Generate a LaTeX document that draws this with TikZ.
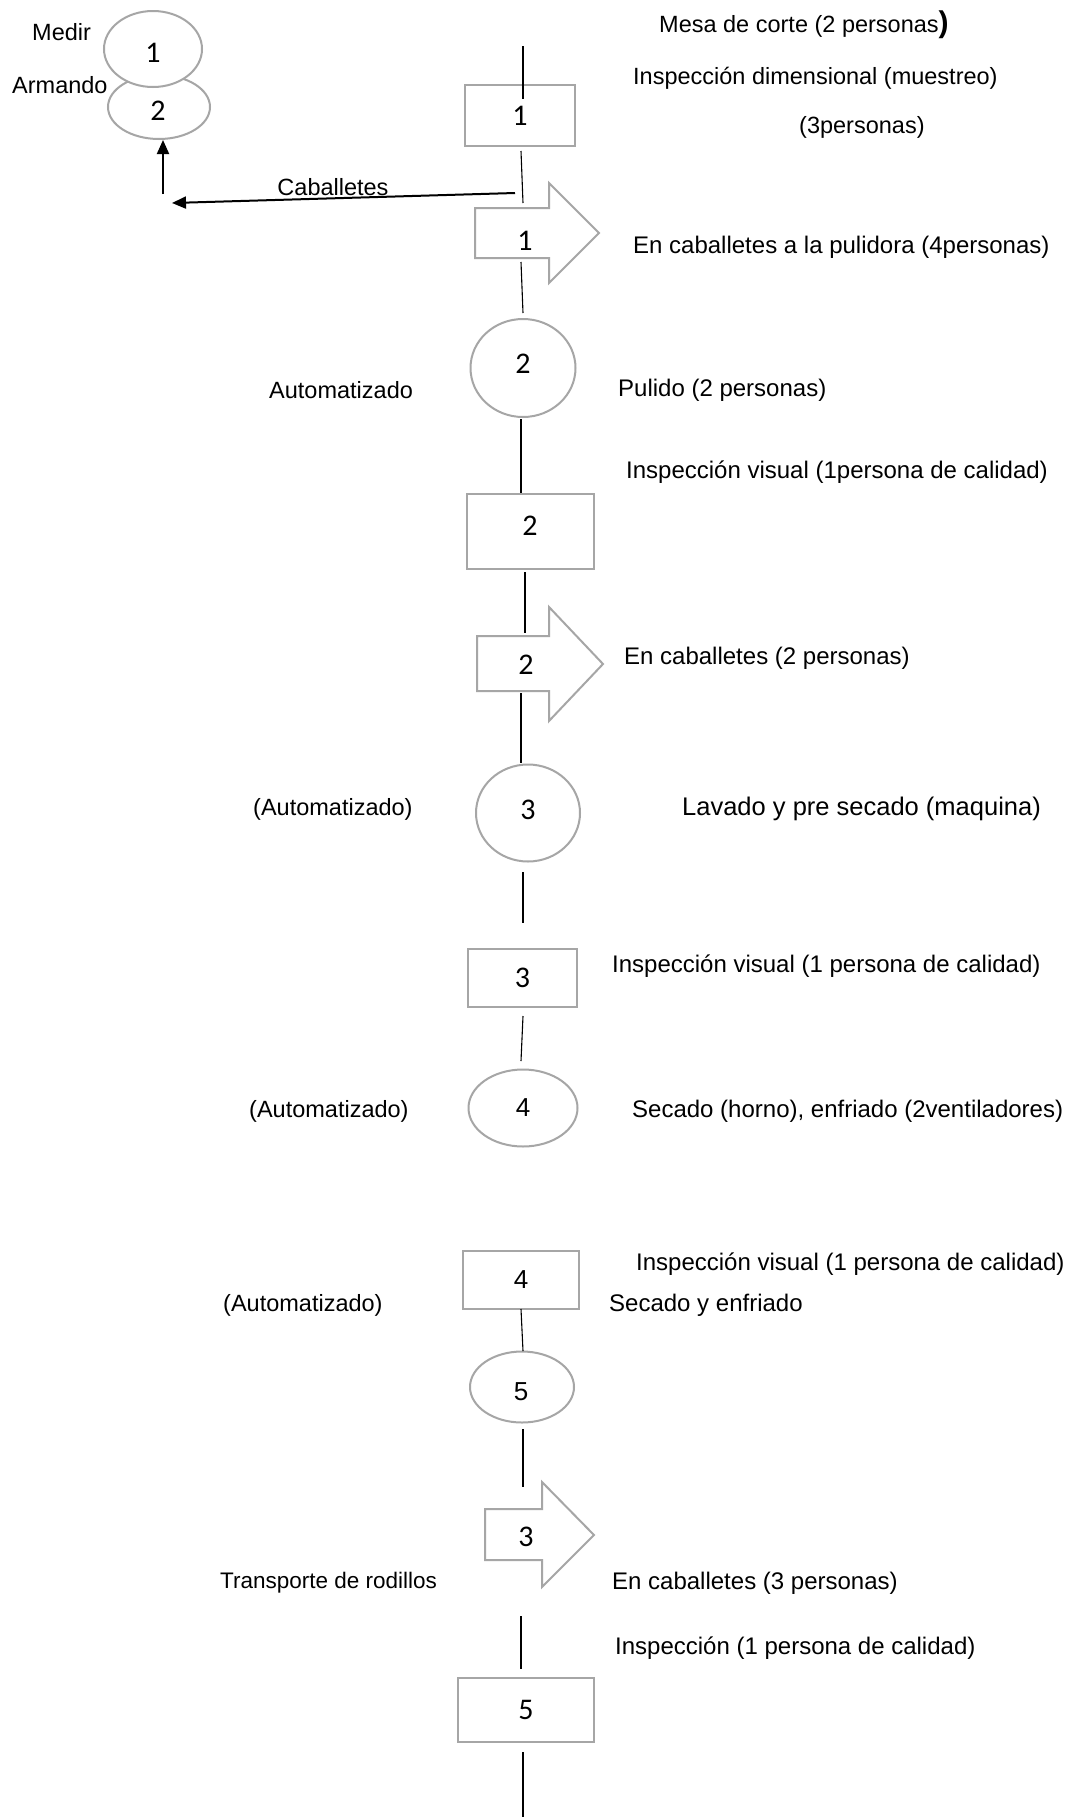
\documentclass[tikz,border=0pt]{standalone}
\usepackage{fontspec}
\setmainfont{Liberation Sans}
\newfontfamily\numfont{Carlito}
\usetikzlibrary{shapes.geometric,arrows.meta,calc}
\definecolor{shapegray}{RGB}{166,166,166}
\tikzset{
  shapeline/.style={draw=shapegray, line width=2pt},
  numtext/.style={font=\numfont\fontsize{30}{34}\selectfont},
  sanstext/.style={font=\fontsize{26}{30}\selectfont},
  boxnode/.style={shapeline, rectangle, inner sep=0pt, outer sep=0pt, numtext},
  ovalnode/.style={shapeline, ellipse, inner sep=0pt, outer sep=0pt, numtext},
  bodynode/.style={rectangle, inner sep=0pt, outer sep=0pt},
  numlabel/.style={numtext, inner sep=0pt},
  conn/.style={draw=black, line width=1.1pt},
  bigarrow/.style={draw=black, line width=2pt, -{Triangle[length=14pt,width=12pt]}},
  lbl/.style={font=\fontsize{23.5}{28}\selectfont, inner sep=0pt, anchor=west},
  rlbl/.style={font=\fontsize{24}{28}\selectfont, inner sep=0pt, anchor=west},
}
\begin{document}
\begin{tikzpicture}[x=1pt,y=-1pt]
\useasboundingbox (0,0) rectangle (1067,1818);
\fill[white] (0,0) rectangle (1067,1818);

% ---- side sub-process: measure and assemble ----
\node[ovalnode, minimum width=102pt, minimum height=64pt] (m2) at (159,107) {};
\node[numlabel] (m2n) at (158,111) {2};
\node[ovalnode, fill=white, minimum width=98pt, minimum height=76pt] (m1) at (153,49) {};
\node[numlabel] (m1n) at (153,53) {1};
\node[lbl] (medir) at (32,32) {Medir};
\node[lbl] (armando) at (12,85) {Armando};
\coordinate (upfoot) at (163,194);
\draw[bigarrow] (upfoot) -- ($(m2.south)+(4,1)$);
\coordinate (cabstart) at (515,193);
\coordinate (cabend) at (172,203);
\draw[bigarrow] (cabstart) -- (cabend);
\node[lbl, anchor=center] (cab) at (333,187) {Caballetes};

% ---- main process column ----
\coordinate (t0) at (523,46);
\coordinate (t1) at (523,99);
\node[boxnode, minimum width=110pt, minimum height=61pt] (b1) at (520,115.5) {1};
\draw[conn] (t0) -- (t1);

% transport 1
\node[bodynode, minimum width=74pt, minimum height=50pt] (a1) at (512,233) {};
\draw[shapeline, line join=miter] (a1.south west) -- (a1.north west) -- (a1.north east)
  -- ++(0,-25) -- ++(50,50) -- ++(-50,50) -- (a1.south east) -- cycle;
\node[numlabel] (a1n) at (525,241) {1};

\node[ovalnode, minimum width=105pt, minimum height=98pt] (c2) at (523,368) {};
\node[numlabel] (c2n) at (523,364) {2};
\node[boxnode, minimum width=127pt, minimum height=75pt] (b2) at (530.5,531.5) {};
\node[numlabel] (b2n) at (530,526) {2};

% transport 2
\node[bodynode, minimum width=72pt, minimum height=55pt] (a2) at (513,663.5) {};
\draw[shapeline, line join=miter] (a2.south west) -- (a2.north west) -- (a2.north east)
  -- ++(0,-29) -- ++(54,57) -- ++(-54,57) -- (a2.south east) -- cycle;
\node[numlabel] (a2n) at (526,665) {2};

\node[ovalnode, minimum width=104pt, minimum height=97pt] (c3) at (528,813) {};
\node[numlabel] (c3n) at (528,810) {3};
\node[boxnode, minimum width=109pt, minimum height=58pt] (b3) at (522.5,978) {3};
\node[ovalnode, minimum width=109pt, minimum height=77pt, sanstext] (e4) at (523,1108) {4};
\node[boxnode, minimum width=116pt, minimum height=58pt, sanstext] (b4) at (521,1280) {4};
\node[ovalnode, minimum width=104pt, minimum height=71pt] (e5) at (522,1387) {};
\node[inner sep=0pt, sanstext] (e5n) at (521,1392) {5};

% transport 3
\node[bodynode, minimum width=57pt, minimum height=51pt] (a3) at (513.5,1534.5) {};
\draw[shapeline, line join=miter] (a3.south west) -- (a3.north west) -- (a3.north east)
  -- ++(0,-27) -- ++(52,53) -- ++(-52,52) -- (a3.south east) -- cycle;
\node[numlabel] (a3n) at (526,1537) {3};

\node[boxnode, minimum width=136pt, minimum height=64pt] (b5) at (526,1710) {5};
\coordinate (tend) at (523,1817);

% connectors
\draw[conn] ($(b1.south)+(1,5)$) -- ($(a1.north)+(11,-5)$);
\draw[conn] ($(a1.south)+(9,4)$) -- ($(c2.north)+(0,-6)$);
\draw[conn] ($(c2.south)+(-2,2)$) -- ($(b2.north)+(-9.5,-1)$);
\draw[conn] ($(b2.south)+(-5.5,3)$) -- ($(a2.north)+(12,-3)$);
\draw[conn] ($(a2.south)+(8,2)$) -- ($(c3.north)+(-7,-1.5)$);
\draw[conn] ($(c3.south)+(-5,10.5)$) -- ($(b3.north)+(0.5,-26)$);
\draw[conn] ($(b3.south)+(0.5,9)$) -- ($(e4.north)+(-2,-8.5)$);
\draw[conn] (b4.south) -- ($(e5.north)+(1,-0.5)$);
\draw[conn] ($(e5.south)+(1,6.5)$) -- ($(a3.north)+(9.5,-22)$);
\draw[conn] ($(a3.south)+(7.5,56)$) -- ($(b5.north)+(-5,-9)$);
\draw[conn] ($(b5.south)+(-3,10)$) -- (tend);

% ---- descriptions ----
\node[lbl] (d1) at (659,25) {Mesa de corte (2 personas{\bfseries\fontsize{30}{32}\selectfont)}};
\node[lbl] (d2) at (633,78) {Inspección dimensional (muestreo)};
\node[lbl] (d3) at (799,127) {(3personas)};
\node[rlbl] (d4) at (633,247) {En caballetes a la pulidora (4personas)};
\node[lbl] (l5) at (269,390) {Automatizado};
\node[rlbl] (d5) at (618,390) {Pulido (2 personas)};
\node[rlbl] (d6) at (626,472) {Inspección visual (1persona de calidad)};
\node[rlbl] (d7) at (624,658) {En caballetes (2 personas)};
\node[lbl] (l8) at (253,809) {(Automatizado)};
\node[rlbl, font=\fontsize{25.5}{30}\selectfont] (d8) at (682,809) {Lavado y pre secado (maquina)};
\node[rlbl] (d9) at (612,966) {Inspección visual (1 persona de calidad)};
\node[lbl] (l10) at (249,1111) {(Automatizado)};
\node[rlbl] (d10) at (632,1111) {Secado (horno), enfriado (2ventiladores)};
\node[rlbl] (d11) at (636,1264) {Inspección visual (1 persona de calidad)};
\node[lbl] (l12) at (223,1305) {(Automatizado)};
\node[rlbl] (d12) at (609,1305) {Secado y enfriado};
\node[lbl, font=\fontsize{22.5}{27}\selectfont] (l13) at (220,1583) {Transporte de rodillos};
\node[rlbl] (d13) at (612,1583) {En caballetes (3 personas)};
\node[rlbl] (d14) at (615,1648) {Inspección (1 persona de calidad)};
\end{tikzpicture}
\end{document}
